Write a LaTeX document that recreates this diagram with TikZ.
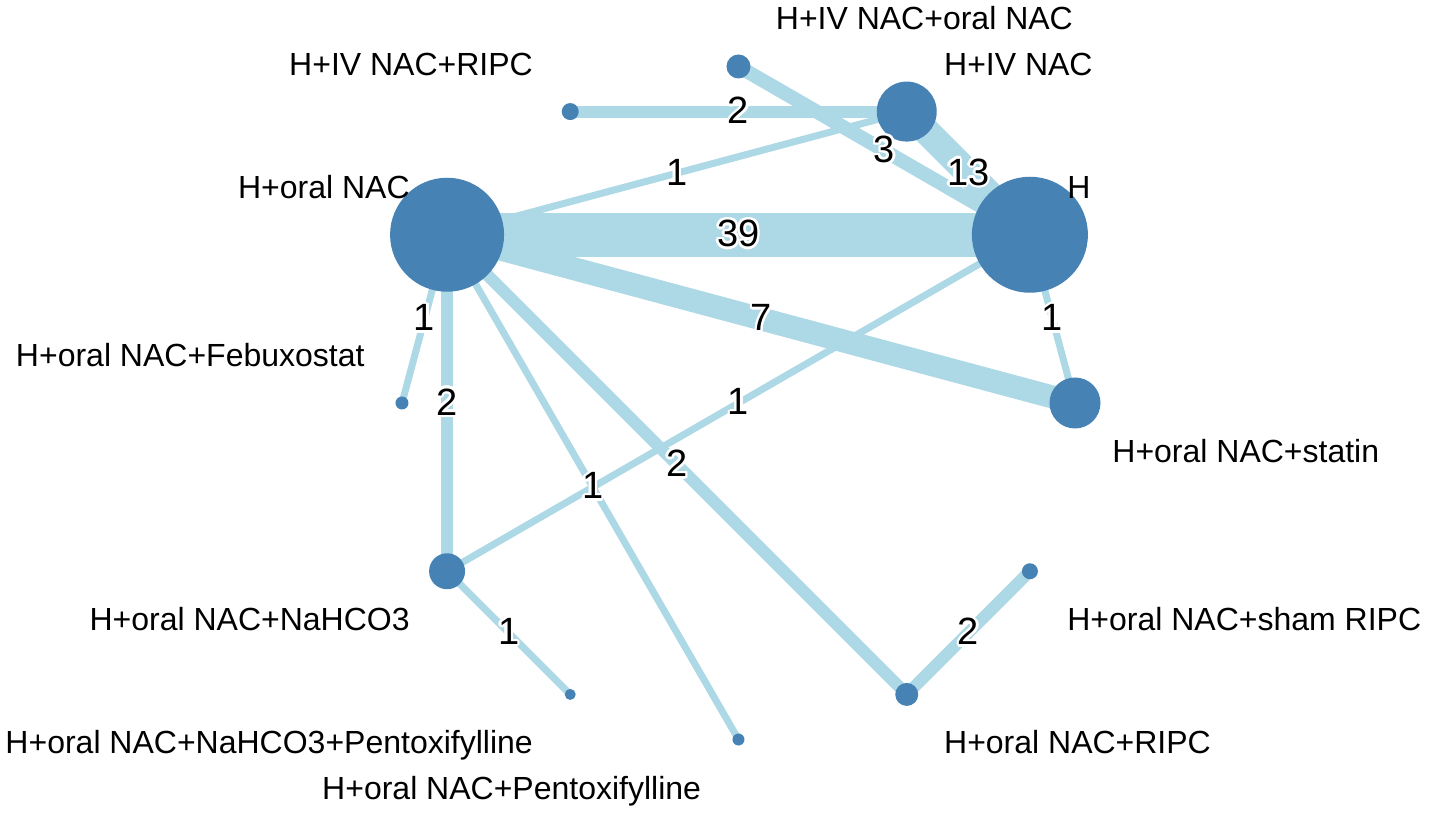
\documentclass[tikz,border=0pt]{standalone}
\usepackage{fontspec}
\setmainfont{Liberation Sans}
\usepackage[copies]{contour}
\contourlength{1.2pt}
\usetikzlibrary{calc,backgrounds}
\definecolor{steel}{RGB}{70,130,180}
\definecolor{sky}{RGB}{173,216,230}

\begin{document}
\begin{tikzpicture}[x=0.5pt, y=0.5pt,
    trt/.style={circle, fill=steel, inner sep=0, minimum size=#1},
    lbl/.style={inner sep=0, font=\fontsize{16}{19}\selectfont},
    edge/.style={draw=sky, line width=#1},
    elbl/.style={inner sep=0, font=\fontsize{19}{22}\selectfont}]
      \useasboundingbox (-738.5, -410) rectangle (691.5, 403);
      % treatments, every 30 degrees round the circle
      \node[trt=25.5pt] (statin) at (0:336.5) {};
      \node[trt=58pt] (H) at (30:336.5) {};
      \node[trt=30pt] (iv) at (60:336.5) {};
      \node[trt=12pt] (ivoral) at (90:336.5) {};
      \node[trt=8.5pt] (ivripc) at (120:336.5) {};
      \node[trt=57pt] (oral) at (150:336.5) {};
      \node[trt=6.5pt] (febux) at (180:336.5) {};
      \node[trt=18pt] (nahco) at (210:336.5) {};
      \node[trt=5.5pt] (nahcopent) at (240:336.5) {};
      \node[trt=6pt] (pentox) at (270:336.5) {};
      \node[trt=11.5pt] (ripc) at (300:336.5) {};
      \node[trt=8pt] (sham) at (330:336.5) {};
      % names
      \node[lbl, anchor=base west] (t-statin) at ($(statin)+(37,-59.5)$) {H+oral NAC+statin};
      \node[lbl, anchor=base west] (t-H) at ($(H)+(37,36.5)$) {H};
      \node[lbl, anchor=base west] (t-iv) at ($(iv)+(37,36.5)$) {H+IV NAC};
      \node[lbl, anchor=base west] (t-ivoral) at ($(ivoral)+(37,36.5)$) {H+IV NAC+oral NAC};
      \node[lbl, anchor=base east] (t-ivripc) at ($(ivripc)+(-37,36.5)$) {H+IV NAC+RIPC};
      \node[lbl, anchor=base east] (t-oral) at ($(oral)+(-37,36.5)$) {H+oral NAC};
      \node[lbl, anchor=base east] (t-febux) at ($(febux)+(-37,36.5)$) {H+oral NAC+Febuxostat};
      \node[lbl, anchor=base east] (t-nahco) at ($(nahco)+(-37,-59.5)$) {H+oral NAC+NaHCO3};
      \node[lbl, anchor=base east] (t-nahcopent) at ($(nahcopent)+(-37,-59.5)$) {H+oral NAC+NaHCO3+Pentoxifylline};
      \node[lbl, anchor=base east] (t-pentox) at ($(pentox)+(-37,-59.5)$) {H+oral NAC+Pentoxifylline};
      \node[lbl, anchor=base west] (t-ripc) at ($(ripc)+(37,-59.5)$) {H+oral NAC+RIPC};
      \node[lbl, anchor=base west] (t-sham) at ($(sham)+(37,-59.5)$) {H+oral NAC+sham RIPC};
      % comparisons, width by number of studies
      \begin{pgfonlayer}{background}
        \draw[edge=22pt] (oral.center) -- (H.center);
        \draw[edge=3.5pt] (oral.center) -- (iv.center);
        \draw[edge=6pt] (ivripc.center) -- (iv.center);
        \draw[edge=7pt] (ivoral.center) -- (H.center);
        \draw[edge=13.5pt] (iv.center) -- (H.center);
        \draw[edge=3.5pt] (H.center) -- (statin.center);
        \draw[edge=11.5pt] (oral.center) -- (statin.center);
        \draw[edge=3.5pt] (oral.center) -- (febux.center);
        \draw[edge=6pt] (oral.center) -- (nahco.center);
        \draw[edge=3.5pt] (H.center) -- (nahco.center);
        \draw[edge=3.5pt] (oral.center) -- (pentox.center);
        \draw[edge=6pt] (oral.center) -- (ripc.center);
        \draw[edge=6pt] (ripc.center) -- (sham.center);
        \draw[edge=3.5pt] (nahco.center) -- (nahcopent.center);
      \end{pgfonlayer}
      \path (oral.center) -- (H.center) node[elbl, midway] (n-oral-H) {\contour{white}{39}};
      \path (oral.center) -- (iv.center) node[elbl, midway] (n-oral-iv) {\contour{white}{1}};
      \path (ivripc.center) -- (iv.center) node[elbl, midway] (n-ivripc-iv) {\contour{white}{2}};
      \path (ivoral.center) -- (H.center) node[elbl, midway] (n-ivoral-H) {\contour{white}{3}};
      \path (iv.center) -- (H.center) node[elbl, midway] (n-iv-H) {\contour{white}{13}};
      \path (H.center) -- (statin.center) node[elbl, midway] (n-H-statin) {\contour{white}{1}};
      \path (oral.center) -- (statin.center) node[elbl, midway] (n-oral-statin) {\contour{white}{7}};
      \path (oral.center) -- (febux.center) node[elbl, midway] (n-oral-febux) {\contour{white}{1}};
      \path (oral.center) -- (nahco.center) node[elbl, midway] (n-oral-nahco) {\contour{white}{2}};
      \path (H.center) -- (nahco.center) node[elbl, midway] (n-H-nahco) {\contour{white}{1}};
      \path (oral.center) -- (pentox.center) node[elbl, midway] (n-oral-pentox) {\contour{white}{1}};
      \path (oral.center) -- (ripc.center) node[elbl, midway] (n-oral-ripc) {\contour{white}{2}};
      \path (ripc.center) -- (sham.center) node[elbl, midway] (n-ripc-sham) {\contour{white}{2}};
      \path (nahco.center) -- (nahcopent.center) node[elbl, midway] (n-nahco-nahcopent) {\contour{white}{1}};
    \end{tikzpicture}
\end{document}
